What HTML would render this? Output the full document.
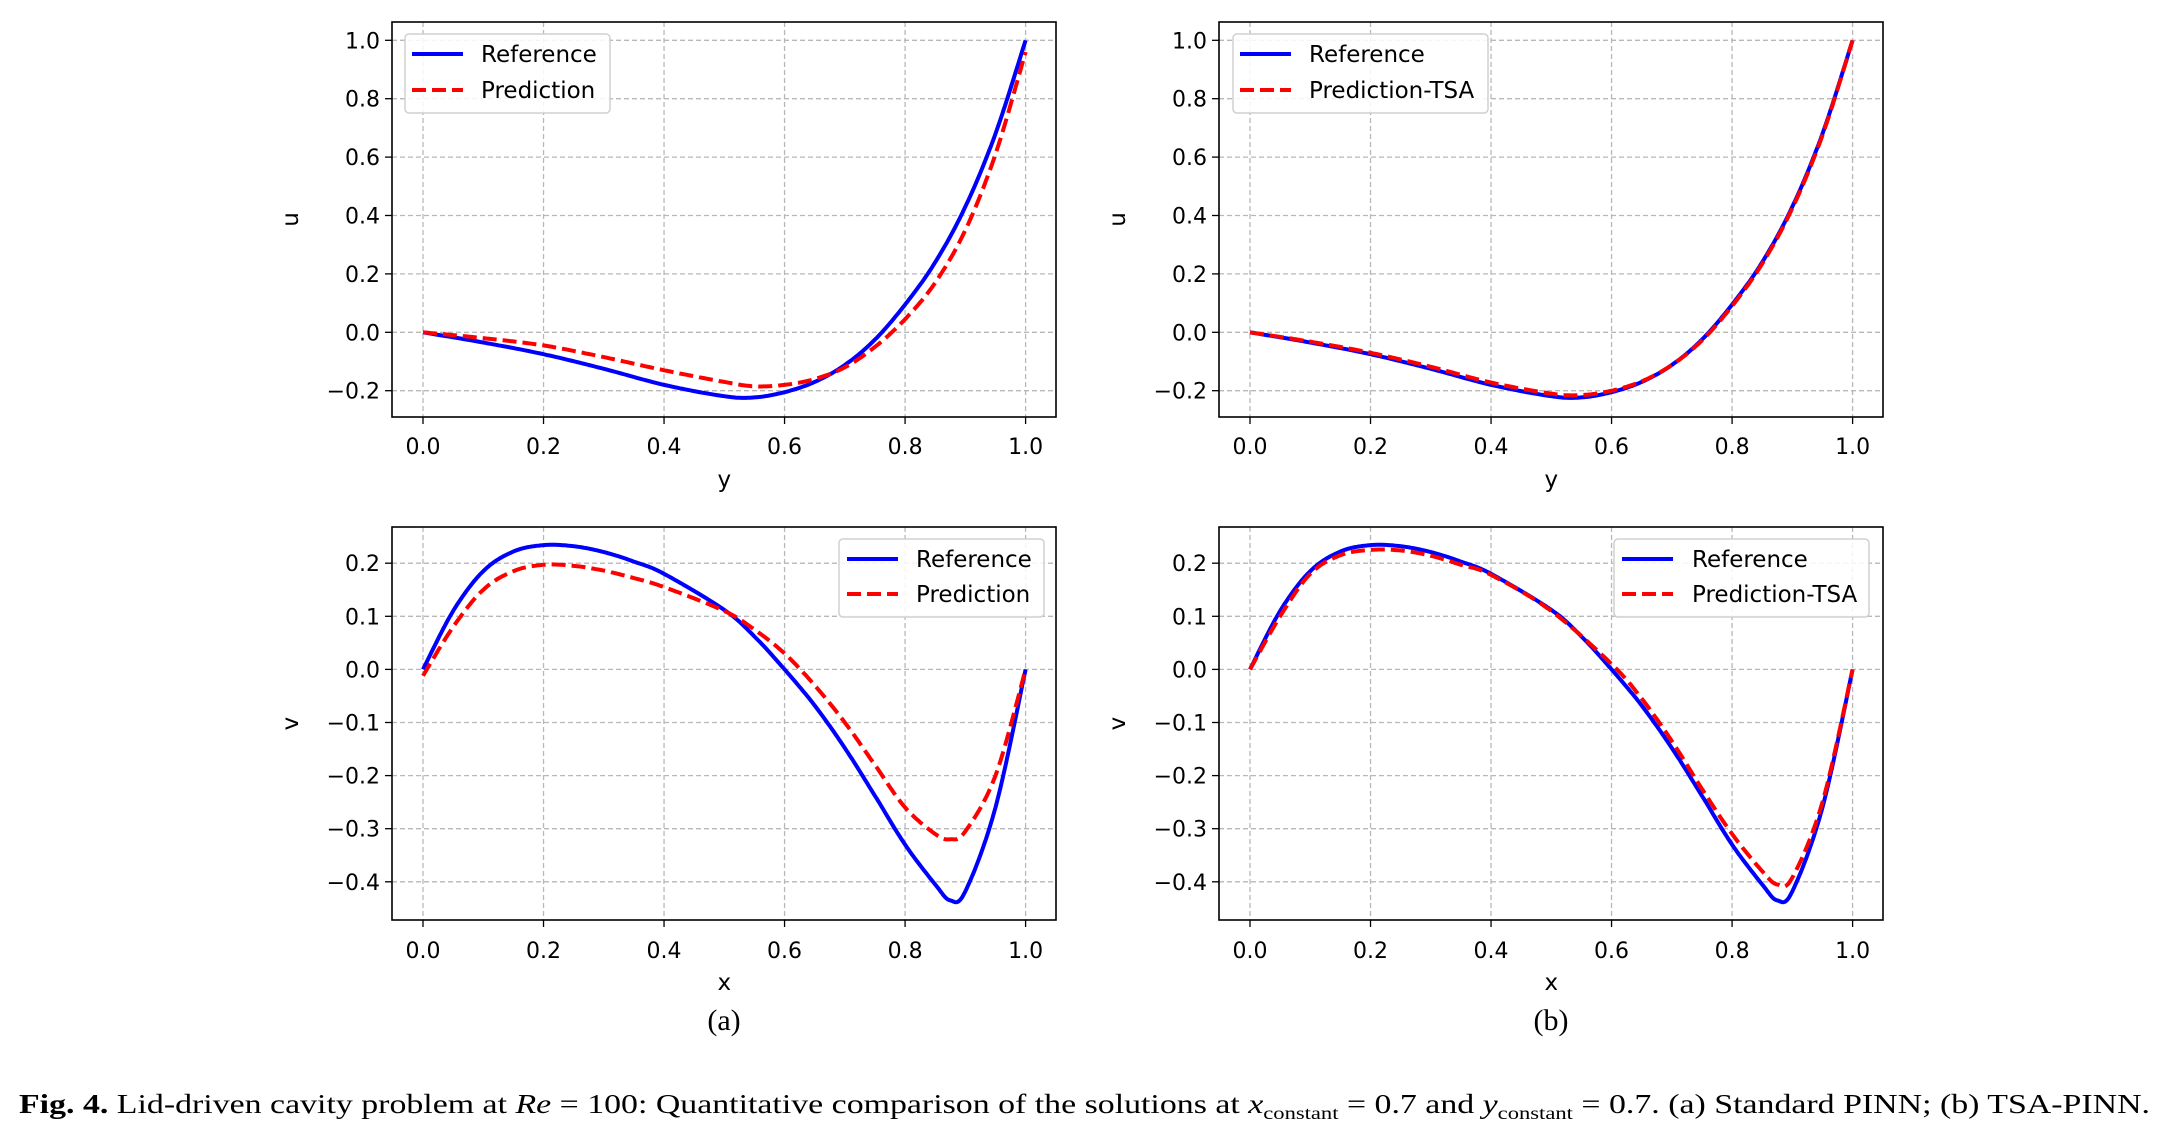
<!DOCTYPE html>
<html><head><meta charset="utf-8"><style>
html,body{margin:0;padding:0;background:#fff;}
svg{display:block;}
</style></head><body>
<svg id="s" width="2158" height="1126" xmlns="http://www.w3.org/2000/svg" font-family="DejaVu Sans, Liberation Sans, sans-serif">
<text x="19" y="1113" font-family="Liberation Serif, serif" font-size="27" textLength="2131" lengthAdjust="spacingAndGlyphs"><tspan font-weight="bold">Fig. 4.</tspan> Lid-driven cavity problem at <tspan font-style="italic">Re</tspan> = 100: Quantitative comparison of the solutions at <tspan font-style="italic">x</tspan><tspan font-size="18" dy="6">constant</tspan><tspan dy="-6"> = 0.7 and </tspan><tspan font-style="italic">y</tspan><tspan font-size="18" dy="6">constant</tspan><tspan dy="-6"> = 0.7. (a) Standard PINN; (b) TSA-PINN.</tspan></text>
<text x="724" y="1030" font-family="Liberation Serif, serif" font-size="30" text-anchor="middle">(a)</text>
<text x="1551" y="1030" font-family="Liberation Serif, serif" font-size="30" text-anchor="middle">(b)</text>
</svg>
<script>
const S=document.getElementById('s');const NS='http://www.w3.org/2000/svg';
function el(t,a,txt){const e=document.createElementNS(NS,t);for(const k in a)e.setAttribute(k,a[k]);if(txt!==undefined)e.textContent=txt;S.appendChild(e);return e;}
function cr(pts){const out=[];for(let i=0;i<pts.length-1;i++){const p0=pts[Math.max(0,i-1)],p1=pts[i],p2=pts[i+1],p3=pts[Math.min(pts.length-1,i+2)];for(let t=0;t<1;t+=0.05){const t2=t*t,t3=t2*t;const f=(a,b,c,d)=>0.5*((2*b)+(-a+c)*t+(2*a-5*b+4*c-d)*t2+(-a+3*b-3*c+d)*t3);out.push([f(p0[0],p1[0],p2[0],p3[0]),f(p0[1],p1[1],p2[1],p3[1])]);}}out.push(pts[pts.length-1]);return out;}
const uRef=[[0,0],[0.1,-0.035],[0.2,-0.075],[0.3,-0.125],[0.4,-0.18],[0.5,-0.219],[0.55,-0.223],[0.6,-0.205],[0.65,-0.17],[0.7,-0.112],[0.75,-0.025],[0.8,0.095],[0.85,0.24],[0.9,0.43],[0.95,0.68],[1,1]];
const uPa=[[0,0],[0.1,-0.02],[0.2,-0.045],[0.3,-0.085],[0.4,-0.13],[0.5,-0.17],[0.55,-0.185],[0.6,-0.18],[0.65,-0.16],[0.7,-0.12],[0.75,-0.05],[0.8,0.045],[0.85,0.17],[0.9,0.35],[0.95,0.61],[1,0.96]];
const uPb=[[0,0],[0.1,-0.032],[0.2,-0.07],[0.3,-0.118],[0.4,-0.172],[0.5,-0.21],[0.55,-0.215],[0.6,-0.2],[0.65,-0.168],[0.7,-0.112],[0.75,-0.028],[0.8,0.09],[0.85,0.235],[0.9,0.425],[0.95,0.675],[1,1]];
const vRef=[[0,0],[0.05,0.11],[0.1,0.185],[0.15,0.222],[0.2,0.234],[0.25,0.232],[0.3,0.221],[0.35,0.203],[0.4,0.18],[0.5,0.112],[0.55,0.062],[0.6,0.0],[0.65,-0.068],[0.7,-0.148],[0.75,-0.238],[0.8,-0.33],[0.85,-0.405],[0.875,-0.435],[0.9,-0.418],[0.95,-0.26],[1,0]];
const vPa=[[0,-0.012],[0.05,0.08],[0.1,0.15],[0.15,0.185],[0.2,0.197],[0.25,0.195],[0.3,0.186],[0.35,0.172],[0.4,0.155],[0.5,0.11],[0.55,0.075],[0.6,0.03],[0.65,-0.03],[0.7,-0.1],[0.75,-0.18],[0.8,-0.26],[0.85,-0.31],[0.875,-0.32],[0.9,-0.305],[0.95,-0.2],[1,0]];
const vPb=[[0,0],[0.05,0.1],[0.1,0.18],[0.15,0.215],[0.2,0.225],[0.25,0.224],[0.3,0.214],[0.35,0.197],[0.4,0.178],[0.5,0.11],[0.6,0.01],[0.65,-0.055],[0.7,-0.135],[0.75,-0.225],[0.8,-0.31],[0.85,-0.38],[0.875,-0.405],[0.9,-0.392],[0.95,-0.25],[1,0]];
function panel(dx,top){
 const L=392+dx,R=1056+dx,x0=423+dx,x1=1025.6+dx;
 let T,B,ymap,yt,ylab,xl,ty,xly;
 const X=v=>x0+(x1-x0)*v;
 if(top){T=22;B=417;ymap=v=>332.3-v*292;yt=[-0.2,0,0.2,0.4,0.6,0.8,1.0];ylab='u';xl='y';ty=454;xly=487;}
 else{T=527;B=920;ymap=v=>669.4-v*531;yt=[-0.4,-0.3,-0.2,-0.1,0,0.1,0.2];ylab='v';xl='x';ty=958;xly=990;}
 for(let i=0;i<=5;i++){const x=X(i/5);el('line',{x1:x,y1:T,x2:x,y2:B,stroke:'#b8b8b8','stroke-width':1.3,'stroke-dasharray':'5,3'});
  el('line',{x1:x,y1:B,x2:x,y2:B+7,stroke:'#000','stroke-width':1.3});
  el('text',{x:x,y:ty,'font-size':22,'text-anchor':'middle'},(i/5).toFixed(1));}
 for(const v of yt){const y=ymap(v);el('line',{x1:L,y1:y,x2:R,y2:y,stroke:'#b8b8b8','stroke-width':1.3,'stroke-dasharray':'5,3'});
  el('line',{x1:L-7,y1:y,x2:L,y2:y,stroke:'#000','stroke-width':1.3});
  el('text',{x:L-12,y:y+8,'font-size':22,'text-anchor':'end'},(v<0?'\u2212':'')+Math.abs(v).toFixed(1));}
 el('text',{x:X(0.5),y:xly,'font-size':23,'text-anchor':'middle'},xl);
 el('text',{x:0,y:0,'font-size':23,'text-anchor':'middle',transform:`translate(${298+dx},${(T+B)/2}) rotate(-90)`},ylab);
 return {X,ymap,L,R,T,B};
}
function draw(p,data,style){const pts=cr(data).map(q=>p.X(q[0]).toFixed(1)+','+p.ymap(q[1]).toFixed(1));el('polyline',Object.assign({points:pts.join(' '),fill:'none','stroke-width':4,'stroke-linejoin':'round'},style));}
function legend(x,y,w,h,lx,tx,r1,r2,lab){el('rect',{x:x,y:y,width:w,height:h,rx:4,fill:'#fff','fill-opacity':0.85,stroke:'#d0d0d0','stroke-width':1.5});
 el('line',{x1:lx,y1:r1,x2:lx+51,y2:r1,stroke:'#0000ff','stroke-width':4});
 el('line',{x1:lx,y1:r2,x2:lx+51,y2:r2,stroke:'#ff0000','stroke-width':4,'stroke-dasharray':'14,6'});
 el('text',{x:tx,y:r1+8,'font-size':23},'Reference');el('text',{x:tx,y:r2+8,'font-size':23},lab);}
function frame(p){el('rect',{x:p.L,y:p.T,width:p.R-p.L,height:p.B-p.T,fill:'none',stroke:'#000','stroke-width':1.6});}
const blue={stroke:'#0000ff'},red={stroke:'#ff0000','stroke-dasharray':'14,6'};
let p=panel(0,true);draw(p,uRef,blue);draw(p,uPa,red);frame(p);legend(405,34,205,79,412,481,54,90,'Prediction');
p=panel(827,true);draw(p,uRef,blue);draw(p,uPb,red);frame(p);legend(1233,34,255,79,1240,1309,54,90,'Prediction-TSA');
p=panel(0,false);draw(p,vRef,blue);draw(p,vPa,red);frame(p);legend(839,539,205,78,847,916,559,594,'Prediction');
p=panel(827,false);draw(p,vRef,blue);draw(p,vPb,red);frame(p);legend(1614,539,255,78,1622,1692,559,594,'Prediction-TSA');
</script>
</body></html>
